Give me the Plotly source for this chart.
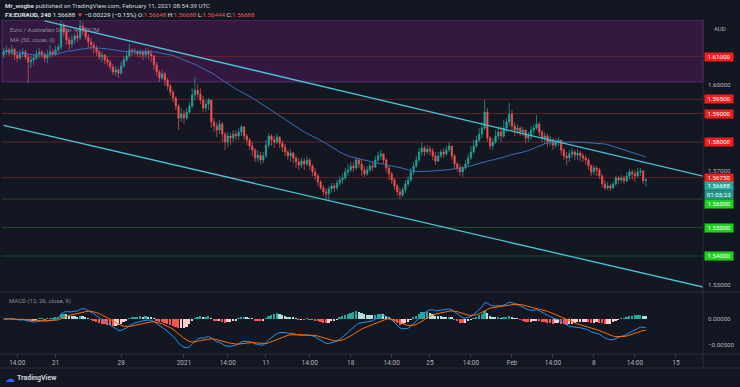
import pandas as pd
import plotly.graph_objects as go

# ---------------- data (EURAUD, 4h candles) ----------------
first_open = 1.6105
close = [
    1.6116, 1.6123, 1.6112, 1.6126, 1.6105, 1.6095, 1.6109, 1.6116, 1.6098, 1.6081,
    1.6088, 1.6095, 1.6109, 1.6116, 1.6105, 1.6095, 1.6105, 1.6116, 1.6109, 1.6123,
    1.6133, 1.6210, 1.6186, 1.6158, 1.6144, 1.6158, 1.6172, 1.6165, 1.6207, 1.6193,
    1.6168, 1.6151, 1.6140, 1.6130, 1.6116, 1.6098, 1.6105, 1.6088, 1.6081, 1.6063,
    1.6046, 1.6053, 1.6042, 1.6067, 1.6088, 1.6102, 1.6123, 1.6116, 1.6119, 1.6109,
    1.6116, 1.6105, 1.6119, 1.6109, 1.6102, 1.6070, 1.6046, 1.6025, 1.6039, 1.6018,
    1.5996, 1.5975, 1.5954, 1.5926, 1.5884, 1.5898, 1.5884, 1.5905, 1.5926, 1.5965,
    1.5982, 1.5968, 1.5947, 1.5919, 1.5933, 1.5947, 1.5870, 1.5856, 1.5842, 1.5863,
    1.5828, 1.5800, 1.5821, 1.5814, 1.5828, 1.5821, 1.5835, 1.5853, 1.5821, 1.5807,
    1.5786, 1.5772, 1.5744, 1.5754, 1.5737, 1.5751, 1.5789, 1.5821, 1.5807, 1.5800,
    1.5817, 1.5796, 1.5782, 1.5765, 1.5751, 1.5761, 1.5744, 1.5730, 1.5719, 1.5733,
    1.5723, 1.5737, 1.5716, 1.5695, 1.5681, 1.5660, 1.5639, 1.5625, 1.5618, 1.5635,
    1.5646, 1.5639, 1.5656, 1.5667, 1.5674, 1.5695, 1.5702, 1.5716, 1.5709, 1.5737,
    1.5723, 1.5702, 1.5688, 1.5702, 1.5716, 1.5712, 1.5737, 1.5751, 1.5758, 1.5737,
    1.5709, 1.5688, 1.5667, 1.5646, 1.5625, 1.5614, 1.5632, 1.5653, 1.5667, 1.5695,
    1.5716, 1.5737, 1.5765, 1.5779, 1.5765, 1.5775, 1.5768, 1.5751, 1.5733, 1.5751,
    1.5765, 1.5758, 1.5772, 1.5786, 1.5751, 1.5723, 1.5709, 1.5695, 1.5709, 1.5723,
    1.5744, 1.5765, 1.5786, 1.5807, 1.5828, 1.5849, 1.5905, 1.5814, 1.5786, 1.5800,
    1.5821, 1.5835, 1.5821, 1.5849, 1.5870, 1.5898, 1.5856, 1.5842, 1.5849, 1.5835,
    1.5842, 1.5814, 1.5821, 1.5842, 1.5849, 1.5863, 1.5835, 1.5814, 1.5821, 1.5800,
    1.5807, 1.5789, 1.5800, 1.5807, 1.5772, 1.5751, 1.5744, 1.5758, 1.5765, 1.5754,
    1.5761, 1.5751, 1.5744, 1.5737, 1.5716, 1.5695, 1.5709, 1.5702, 1.5681, 1.5653,
    1.5639, 1.5646, 1.5639, 1.5653, 1.5674, 1.5667, 1.5674, 1.5663, 1.5681, 1.5695,
    1.5688, 1.5681, 1.5695, 1.5698, 1.56648, 1.56688]
high = [
    1.6130, 1.6137, 1.6130, 1.6140, 1.6130, 1.6116, 1.6123, 1.6130, 1.6123, 1.6109,
    1.6102, 1.6109, 1.6123, 1.6130, 1.6123, 1.6116, 1.6123, 1.6140, 1.6126, 1.6137,
    1.6144, 1.6225, 1.6218, 1.6200, 1.6168, 1.6175, 1.6182, 1.6186, 1.6228, 1.6221,
    1.6203, 1.6179, 1.6165, 1.6151, 1.6140, 1.6123, 1.6116, 1.6109, 1.6102, 1.6088,
    1.6074, 1.6067, 1.6060, 1.6081, 1.6102, 1.6116, 1.6144, 1.6130, 1.6130, 1.6123,
    1.6126, 1.6123, 1.6130, 1.6126, 1.6123, 1.6105, 1.6081, 1.6053, 1.6053, 1.6046,
    1.6025, 1.6004, 1.5982, 1.5961, 1.5933, 1.5919, 1.5912, 1.5919, 1.5940, 1.5989,
    1.6028, 1.6004, 1.5989, 1.5961, 1.5947, 1.5954, 1.5947, 1.5884, 1.5870, 1.5877,
    1.5870, 1.5835, 1.5835, 1.5831, 1.5842, 1.5842, 1.5849, 1.5860, 1.5856, 1.5828,
    1.5814, 1.5800, 1.5779, 1.5772, 1.5765, 1.5765, 1.5807, 1.5831, 1.5828, 1.5821,
    1.5831, 1.5821, 1.5807, 1.5793, 1.5772, 1.5775, 1.5765, 1.5751, 1.5744, 1.5744,
    1.5744, 1.5751, 1.5744, 1.5723, 1.5709, 1.5688, 1.5667, 1.5649, 1.5639, 1.5646,
    1.5656, 1.5656, 1.5667, 1.5681, 1.5688, 1.5709, 1.5723, 1.5730, 1.5730, 1.5747,
    1.5744, 1.5737, 1.5716, 1.5716, 1.5726, 1.5730, 1.5751, 1.5765, 1.5772, 1.5761,
    1.5744, 1.5716, 1.5695, 1.5674, 1.5653, 1.5639, 1.5642, 1.5667, 1.5681, 1.5709,
    1.5730, 1.5751, 1.5779, 1.5800, 1.5786, 1.5789, 1.5786, 1.5779, 1.5765, 1.5765,
    1.5775, 1.5779, 1.5786, 1.5800, 1.5786, 1.5758, 1.5730, 1.5723, 1.5716, 1.5737,
    1.5758, 1.5786, 1.5807, 1.5821, 1.5849, 1.5870, 1.5947, 1.5919, 1.5821, 1.5814,
    1.5842, 1.5849, 1.5856, 1.5877, 1.5884, 1.5937, 1.5912, 1.5870, 1.5863, 1.5856,
    1.5853, 1.5842, 1.5835, 1.5856, 1.5863, 1.5895, 1.5870, 1.5842, 1.5835, 1.5828,
    1.5821, 1.5814, 1.5814, 1.5817, 1.5807, 1.5779, 1.5765, 1.5772, 1.5779, 1.5772,
    1.5775, 1.5768, 1.5761, 1.5754, 1.5744, 1.5723, 1.5719, 1.5716, 1.5709, 1.5688,
    1.5667, 1.5660, 1.5653, 1.5660, 1.5681, 1.5681, 1.5684, 1.5681, 1.5695, 1.5705,
    1.5702, 1.5702, 1.5709, 1.5709, 1.5702, 1.56688]
low = [
    1.6095, 1.6105, 1.6102, 1.6105, 1.6088, 1.6081, 1.6088, 1.6098, 1.6088, 1.6007,
    1.6060, 1.6067, 1.6088, 1.6095, 1.6095, 1.6081, 1.6077, 1.6095, 1.6098, 1.6102,
    1.6112, 1.6123, 1.6172, 1.6140, 1.6123, 1.6130, 1.6144, 1.6151, 1.6158, 1.6175,
    1.6158, 1.6133, 1.6123, 1.6109, 1.6102, 1.6088, 1.6081, 1.6074, 1.6067, 1.6053,
    1.6035, 1.6032, 1.6025, 1.6035, 1.6060, 1.6081, 1.6095, 1.6102, 1.6105, 1.6098,
    1.6095, 1.6088, 1.6095, 1.6088, 1.6081, 1.6053, 1.6032, 1.6011, 1.6018, 1.5996,
    1.5982, 1.5961, 1.5940, 1.5912, 1.5842, 1.5870, 1.5863, 1.5877, 1.5898, 1.5919,
    1.5947, 1.5954, 1.5933, 1.5905, 1.5905, 1.5912, 1.5849, 1.5835, 1.5817, 1.5828,
    1.5800, 1.5772, 1.5782, 1.5789, 1.5800, 1.5807, 1.5807, 1.5821, 1.5807, 1.5789,
    1.5772, 1.5751, 1.5730, 1.5730, 1.5723, 1.5726, 1.5744, 1.5779, 1.5786, 1.5779,
    1.5793, 1.5779, 1.5765, 1.5751, 1.5737, 1.5730, 1.5726, 1.5709, 1.5702, 1.5709,
    1.5702, 1.5716, 1.5702, 1.5681, 1.5667, 1.5646, 1.5632, 1.5611, 1.5600, 1.5596,
    1.5621, 1.5625, 1.5632, 1.5646, 1.5653, 1.5667, 1.5681, 1.5695, 1.5695, 1.5702,
    1.5709, 1.5681, 1.5677, 1.5681, 1.5695, 1.5698, 1.5709, 1.5730, 1.5737, 1.5723,
    1.5695, 1.5667, 1.5653, 1.5632, 1.5611, 1.5600, 1.5607, 1.5621, 1.5642, 1.5660,
    1.5684, 1.5709, 1.5730, 1.5751, 1.5751, 1.5758, 1.5754, 1.5737, 1.5719, 1.5730,
    1.5744, 1.5744, 1.5751, 1.5765, 1.5737, 1.5709, 1.5695, 1.5681, 1.5677, 1.5702,
    1.5716, 1.5737, 1.5758, 1.5779, 1.5800, 1.5814, 1.5842, 1.5800, 1.5772, 1.5772,
    1.5793, 1.5807, 1.5800, 1.5814, 1.5835, 1.5856, 1.5842, 1.5821, 1.5828, 1.5821,
    1.5821, 1.5796, 1.5800, 1.5807, 1.5828, 1.5842, 1.5821, 1.5800, 1.5793, 1.5782,
    1.5786, 1.5772, 1.5779, 1.5786, 1.5754, 1.5737, 1.5719, 1.5730, 1.5744, 1.5737,
    1.5737, 1.5733, 1.5730, 1.5719, 1.5702, 1.5681, 1.5684, 1.5681, 1.5670, 1.5639,
    1.5632, 1.5632, 1.5628, 1.5635, 1.5646, 1.5653, 1.5656, 1.5653, 1.5660, 1.5667,
    1.5667, 1.5660, 1.5674, 1.5681, 1.5653, 1.56444]

# time-axis labels (bar index -> label)
tick_idx = [5, 19, 43, 66, 82, 96, 112, 127, 142, 156, 171, 186, 201, 216, 231, 246]
tick_text = ["14:00", "21", "28", "2021", "14:00", "11", "14:00", "18",
             "14:00", "25", "14:00", "Feb", "14:00", "8", "14:00", "15"]

# drawn objects: trend-channel anchors (bar index, price) and horizontal levels
channel_upper_idx = [15, 256]
channel_upper_px = [1.6225, 1.5680]
channel_lower_idx = [0, 256]
channel_lower_px = [1.5858, 1.5291]
zone_low = 1.6011
red_levels = [1.61, 1.595, 1.59, 1.58, 1.5675]
green_levels = [1.56, 1.55, 1.54]
last_price = 1.56688
countdown = "01:05:23"

# ---------------- derived series ----------------
idx = list(range(len(close)))
open_ = [first_open] + close[:-1]
s = pd.Series(close)
ma50 = s.rolling(50, min_periods=1).mean()
ema12 = s.ewm(span=12, adjust=False).mean()
ema26 = s.ewm(span=26, adjust=False).mean()
macd = ema12 - ema26
signal = macd.ewm(span=9, adjust=False).mean()
hist = macd - signal
hcol = []
for k, h in enumerate(hist):
    prev = hist[k - 1] if k > 0 else h
    if h >= 0:
        hcol.append("#26A69A" if h > prev else "#B2DFDB")
    else:
        hcol.append("#FFCDD2" if h > prev else "#FF5252")

# ---------------- geometry helpers ----------------
W, H = 740, 387
ML, MR, MT, MB = 2, 37, 20, 34
PW, PH = W - ML - MR, H - MT - MB


def ppy(p):
    return (H - MB - p) / PH


def ppx(p):
    return (p - ML) / PW


BG = "#131722"
UP, DOWN = "#26a69a", "#ef5350"
GRAY = "#b2b5be"
FONT = "Roboto"

fig = go.Figure()
fig.add_trace(go.Candlestick(
    x=idx, open=open_, high=high, low=low, close=close,
    increasing=dict(line=dict(color=UP, width=0.7), fillcolor=UP),
    decreasing=dict(line=dict(color=DOWN, width=0.7), fillcolor=DOWN),
    whiskerwidth=0, xaxis="x", yaxis="y", hoverinfo="skip"))
fig.add_trace(go.Scatter(x=idx, y=ma50, mode="lines",
                         line=dict(color="#3b6fb5", width=1), xaxis="x", yaxis="y"))
fig.add_trace(go.Scatter(x=channel_upper_idx, y=channel_upper_px, mode="lines",
                         line=dict(color="#4cc4d8", width=1.3), xaxis="x", yaxis="y"))
fig.add_trace(go.Scatter(x=channel_lower_idx, y=channel_lower_px, mode="lines",
                         line=dict(color="#4cc4d8", width=1.3), xaxis="x", yaxis="y"))

fig.add_trace(go.Bar(x=idx, y=hist, marker=dict(color=hcol, line=dict(width=0)),
                     width=0.65, xaxis="x", yaxis="y2"))
fig.add_trace(go.Scatter(x=idx, y=macd, mode="lines", line=dict(color="#2196f3", width=1),
                         xaxis="x", yaxis="y2"))
fig.add_trace(go.Scatter(x=idx, y=signal, mode="lines", line=dict(color="#ff6d00", width=1),
                         xaxis="x", yaxis="y2"))

shapes = []
shapes.append(dict(type="rect", xref="paper", yref="y", x0=0, x1=1,
                   y0=zone_low, y1=1.62281, fillcolor="#33193f",
                   line=dict(color="#5e2f72", width=1), layer="below"))
for lv in red_levels:
    shapes.append(dict(type="line", xref="paper", yref="y", x0=0, x1=1, y0=lv, y1=lv,
                       line=dict(color="#5e222a", width=1), layer="below"))
for lv in green_levels:
    shapes.append(dict(type="line", xref="paper", yref="y", x0=0, x1=1, y0=lv, y1=lv,
                       line=dict(color="#1c4d2b", width=1), layer="below"))
SEP = "#2a2e39"
for yy in (292, 354, 368):
    shapes.append(dict(type="line", xref="paper", yref="paper", x0=ppx(0), x1=ppx(W),
                       y0=ppy(yy), y1=ppy(yy), line=dict(color=SEP, width=1)))
shapes.append(dict(type="line", xref="paper", yref="paper", x0=1, x1=1,
                   y0=ppy(368), y1=ppy(20), line=dict(color=SEP, width=1)))

ann = []


def txt(x, y, text, size=6.2, color=GRAY, anchor="left"):
    ann.append(dict(xref="paper", yref="paper", x=ppx(x), y=ppy(y), text=text,
                    showarrow=False, xanchor=anchor, yanchor="middle",
                    font=dict(family=FONT, size=size, color=color)))


R = "#ef5350"
txt(3, 6, "<b>Mr_wogbe</b> published on TradingView.com, February 11, 2021 08:54:39 UTC",
    size=6.2, color="#d1d4dc")
txt(3, 15, "<b>FX:EURAUD, 240</b> 1.56688 <span style='color:%s'>▼</span> −0.00229 (−0.15%%) "
    "O:<span style='color:%s'>1.56648</span> H:<span style='color:%s'>1.56688</span> "
    "L:<span style='color:%s'>1.56444</span> C:<span style='color:%s'>1.56688</span>"
    % (R, R, R, R, R), size=6.2, color="#e0e3eb")
txt(8, 30, "Euro / Australian Dollar, 4h, FXCM", size=6, color="#8a8e9b")
txt(8, 40, "MA (50, close, 0)", size=6, color="#8a8e9b")
txt(7, 301, "MACD (12, 26, close, 9)", size=6, color="#8a8e9b")
txt(3, 378, "☁", size=10, color="#2962ff")
txt(15, 378, "<b>TradingView</b>", size=7, color="#d1d4dc")
txt(712, 28, "AUD", size=6, color=GRAY)


def plabel(price, text, bg, fg="#ffffff", yshift=0):
    ann.append(dict(xref="paper", yref="y", x=1, y=price, text=text, showarrow=False,
                    xanchor="left", yanchor="middle", xshift=1, yshift=yshift,
                    bgcolor=bg, width=28, height=8, borderpad=0,
                    font=dict(family=FONT, size=6.2, color=fg)))


for lv in red_levels:
    plabel(lv, "%.5f" % lv, "#f21d1d")
plabel(last_price, "%.5f" % last_price, "#26a69a", yshift=-6.5)
plabel(last_price, countdown, "#239488", yshift=-16)
plabel(1.56, "1.56000", "#1fd11f", yshift=-5)
plabel(1.55, "1.55000", "#1fd11f")
plabel(1.54, "1.54000", "#1fd11f")

fig.update_layout(
    width=W, height=H, margin=dict(l=ML, r=MR, t=MT, b=MB),
    paper_bgcolor=BG, plot_bgcolor=BG, showlegend=False, hovermode=False,
    font=dict(family=FONT, color=GRAY),
    shapes=shapes, annotations=ann, bargap=0,
    xaxis=dict(domain=[0, 1], anchor="y2", range=[-0.59, 255.9],
               tickvals=tick_idx, ticktext=tick_text, showgrid=False, zeroline=False,
               showline=False, ticks="outside", ticklen=3, tickcolor="#434651",
               tickfont=dict(size=6.5, color=GRAY), rangeslider=dict(visible=False)),
    yaxis=dict(domain=[ppy(291), 1], anchor="x", side="right", range=[1.52772, 1.62281],
               tickvals=[1.53, 1.57, 1.60], ticktext=["1.53000", "1.57000", "1.60000"],
               showgrid=False, zeroline=False, showline=False, ticks="",
               ticklabelstandoff=4, tickfont=dict(size=6.2, color=GRAY)),
    yaxis2=dict(domain=[0, ppy(293)], anchor="x", side="right", range=[-0.006538, 0.005],
                tickvals=[0, -0.005], ticktext=["0.00000", "−0.00500"],
                showgrid=False, zeroline=False, showline=False, ticks="",
                ticklabelstandoff=4, tickfont=dict(size=6.2, color=GRAY)),
)

fig.write_html("out.html", config={"displayModeBar": False},
               post_script="document.body.style.margin='0px';"
                           "document.body.style.background='%s';" % BG)
